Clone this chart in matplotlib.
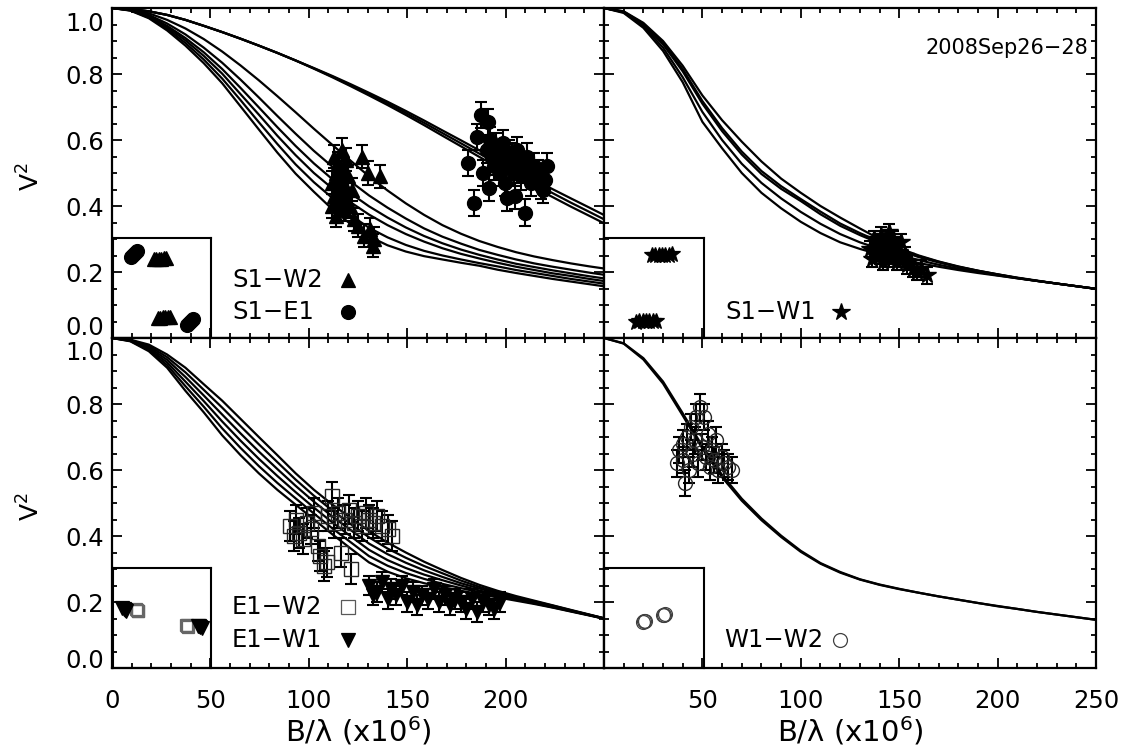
import matplotlib
matplotlib.use("Agg")
import matplotlib.pyplot as plt
from matplotlib.ticker import MultipleLocator
from matplotlib.transforms import ScaledTranslation

W, H = 1128, 749
plt.rcParams['font.family'] = ['DejaVu Sans']
plt.rcParams['font.size'] = 16

# ---------------- model curves: V^2 sampled along B/lambda (x10^6) ----------------
# sampling points for the left-hand panels
MODEL_B_LEFT = [0, 9.3, 18.7, 28.0, 37.3, 46.6, 56.0, 65.3, 74.6, 84.0, 93.3, 102.6, 112.0, 121.3,
                130.6, 140.0, 149.3, 158.6, 167.9, 177.3, 186.6, 195.9, 205.3, 214.6, 223.9,
                233.2, 242.6, 251.9]
# sampling points for the right-hand panels
MODEL_B_RIGHT = [0, 10, 20, 30, 40, 50, 60, 70, 80, 90, 100, 110, 120, 130, 140,
                 150, 160, 170, 180, 190, 200, 210, 220, 230, 240, 250, 260, 270]

# S1-E1 models (tight bundle)
model_s1e1 = [
    [1.0, .997, .99, .979, .964, .946, .927, .907, .886, .864, .841, .816, .79, .763, .735,
     .706, .676, .645, .613, .581, .549, .518, .487, .456, .427, .398, .37, .342],
    [1.0, .997, .99, .979, .964, .946, .927, .907, .886, .864, .841, .817, .792, .766, .739,
     .711, .682, .652, .621, .59, .559, .528, .498, .468, .439, .41, .382, .354],
    [1.0, .997, .99, .979, .964, .946, .927, .907, .886, .864, .841, .818, .794, .769, .743,
     .716, .688, .659, .629, .599, .569, .539, .509, .48, .451, .423, .395, .367],
]
# S1-W2 models
model_s1w2 = [
    [1.0, .996, .984, .964, .938, .906, .868, .826, .781, .733, .684, .634, .585, .537, .49,
     .447, .408, .373, .342, .316, .294, .276, .26, .247, .236, .226, .217, .209],
    [1.0, .995, .979, .953, .92, .88, .834, .783, .729, .673, .619, .567, .519, .474, .432,
     .395, .362, .332, .307, .286, .267, .252, .238, .226, .216, .207, .198, .19],
    [1.0, .994, .976, .946, .909, .866, .815, .758, .699, .639, .582, .529, .481, .438, .399,
     .365, .335, .309, .287, .268, .252, .238, .225, .215, .205, .196, .187, .179],
    [1.0, .993, .974, .942, .902, .855, .801, .739, .677, .613, .554, .50, .453, .411, .374,
     .342, .315, .292, .272, .255, .241, .228, .216, .206, .196, .188, .179, .171],
    [1.0, .993, .971, .937, .894, .844, .786, .721, .654, .588, .526, .472, .424, .372, .334,
     .305, .282, .264, .25, .238, .227, .217, .206, .197, .188, .179, .171, .163],
    [1.0, .992, .969, .932, .886, .833, .772, .702, .632, .562, .498, .443, .39, .345, .308,
     .281, .262, .248, .238, .228, .219, .207, .197, .188, .179, .171, .163, .155],
]
# S1-W1 models
model_s1w1 = [
    [1.0, .985, .94, .87, .775, .655, .575, .50, .44, .393, .352, .318, .29, .27, .253,
     .239, .227, .216, .206, .197, .189, .181, .173, .165, .157, .149, .141, .133],
    [1.0, .987, .945, .88, .79, .685, .60, .528, .47, .423, .382, .346, .315, .29, .27,
     .252, .236, .222, .21, .20, .19, .181, .173, .165, .157, .149, .141, .133],
    [1.0, .988, .95, .89, .808, .71, .627, .556, .497, .452, .415, .375, .34, .312, .287,
     .265, .245, .229, .215, .203, .192, .182, .173, .165, .157, .149, .141, .133],
    [1.0, .989, .952, .895, .815, .718, .636, .565, .506, .46, .421, .383, .347, .318, .292,
     .268, .248, .231, .216, .204, .193, .182, .173, .165, .157, .149, .141, .133],
    [1.0, .99, .955, .90, .825, .735, .66, .595, .535, .483, .44, .40, .365, .332, .30,
     .272, .25, .232, .217, .204, .193, .183, .174, .165, .157, .149, .141, .133],
]
# E1-W2 / E1-W1 models
model_e1w = [
    [1.0, .99, .96, .91, .84, .775, .705, .645, .59, .54, .495, .45, .405, .362, .32,
     .292, .272, .257, .245, .234, .224, .214, .204, .194, .183, .171, .159, .147],
    [1.0, .991, .964, .918, .854, .792, .726, .667, .612, .561, .514, .468, .423, .381, .339,
     .31, .288, .27, .255, .242, .23, .218, .207, .196, .184, .172, .16, .147],
    [1.0, .992, .968, .926, .868, .809, .747, .689, .634, .582, .533, .486, .441, .399, .358,
     .327, .303, .283, .266, .25, .235, .222, .21, .198, .186, .173, .16, .147],
    [1.0, .993, .972, .934, .882, .826, .768, .711, .656, .603, .552, .504, .459, .418, .377,
     .345, .319, .296, .276, .257, .241, .226, .212, .20, .187, .174, .161, .148],
    [1.0, .994, .976, .942, .896, .843, .789, .733, .678, .624, .571, .522, .477, .436, .396,
     .362, .334, .309, .287, .265, .246, .23, .215, .202, .189, .175, .161, .148],
    [1.0, .995, .98, .95, .91, .86, .81, .755, .70, .645, .59, .54, .495, .455, .415,
     .38, .35, .322, .297, .273, .252, .234, .218, .204, .19, .176, .162, .148],
]
# W1-W2 models
model_w1w2 = [
    [1.0, .983, .935, .862, .765, .665, .578, .507, .448, .397, .352, .316, .289, .268, .252,
     .239, .228, .217, .207, .197, .187, .179, .17, .162, .154, .146, .138, .13],
    [1.0, .984, .939, .868, .772, .672, .585, .513, .453, .401, .355, .318, .291, .269, .253,
     .24, .228, .217, .207, .197, .188, .179, .17, .162, .154, .146, .138, .13],
]

# ---------------- measured squared visibilities ----------------
s1w2_b = [112, 112, 113, 113, 114, 114, 115, 115, 116, 116, 117, 117, 118, 118, 118.5,
          119, 119, 120, 121, 122, 123, 125, 127, 128, 130, 131, 132.5, 133, 136]
s1w2_v = [.40, .47, .55, .43, .50, .37, .45, .53, .41, .48, .57, .44, .51, .39, .46,
          .54, .42, .49, .40, .45, .36, .34, .55, .31, .50, .33, .28, .30, .49]
s1w2_e = [.035] * len(s1w2_b)

s1e1_b = [181, 184, 185.5, 187.5, 188.5, 190.5, 191, 191.5, 192, 193, 194, 195, 196, 197, 198,
          198.5, 199.5, 200.5, 201.5, 202.5, 203.5, 204.5, 205, 206, 207, 208, 210, 211, 212,
          213, 214.5, 216.5, 218, 219, 220, 221]
s1e1_v = [.53, .41, .61, .675, .50, .57, .655, .455, .60, .55, .52, .58, .56, .50, .54, .59, .47, .425,
          .56, .52, .55, .50, .43, .57, .53, .49, .38, .55, .51, .47, .52, .50, .46, .45, .48, .52]
s1e1_e = [.04] * len(s1e1_b)

s1w1_b = [135, 136, 137, 138, 139, 140, 141, 142, 143, 143, 144, 145, 145, 146, 147, 147, 148,
          149, 150, 151, 152, 153, 154, 155, 157, 159, 161, 164]
s1w1_v = [.27, .24, .30, .26, .28, .25, .31, .23, .29, .27, .26, .32, .24, .28, .25, .30, .27,
          .23, .26, .29, .24, .25, .22, .23, .21, .20, .21, .19]
s1w1_e = [.025] * len(s1w1_b)

e1w2_b = [90.5, 92.5, 93.5, 95, 97, 99, 101, 102.5, 104.5, 105.5, 107.5, 109, 110, 112, 113,
          115, 116.5, 118.5, 120.5, 121.5, 123, 125, 127, 129, 130.5, 132.5, 134.5, 137, 140, 142.5]
e1w2_v = [.43, .40, .45, .41, .39, .44, .42, .47, .37, .34, .31, .32, .46, .52, .44, .47, .35,
          .45, .48, .30, .44, .46, .43, .47, .45, .44, .46, .43, .42, .40]
e1w2_e = [.045] * len(e1w2_b)

e1w1_b = [130.5, 132.5, 134.5, 137, 140, 142, 144.5, 147.5, 150, 153, 155, 157.5, 160.5, 163.5,
          166, 169, 171.5, 174.5, 177.5, 180, 183, 185.5, 188.5, 191.5, 194, 197]
e1w1_v = [.25, .22, .23, .26, .21, .24, .22, .25, .20, .23, .19, .22, .21, .24, .20, .22, .19,
          .21, .20, .18, .21, .17, .20, .19, .18, .20]
e1w1_e = [.03] * len(e1w1_b)

w1w2_b = [37, 38, 40, 40, 41, 42, 43, 44, 45, 46, 47, 48, 49, 50, 51, 52, 53, 54, 55, 56,
          57, 58, 60, 61, 63, 65]
w1w2_v = [.62, .66, .68, .63, .56, .70, .60, .73, .65, .69, .76, .62, .79, .67, .76, .64, .71,
          .61, .66, .63, .69, .60, .64, .62, .61, .60]
w1w2_e = [.04] * len(w1w2_b)

# ---------------- (u, v) coverage, Mlambda (mirrored points added when drawn) ----------------
uv_s1e1_u = [-139, -130, -121, -112]
uv_s1e1_v = [136, 145, 154, 163]
uv_s1w2_u = [-36, -25, -14, -3, 8, 18]
uv_s1w2_v = [128, 128, 129, 129, 130, 130]
uv_s1w1_u = [-9, 6, 21, 36, 50, 65, 79]
uv_s1w1_v = [145, 145, 146, 146, 147, 147, 148]
uv_e1w2_u = [-118, -114, -110, -106]
uv_e1w2_v = [38, 35, 32, 29]
uv_e1w1_u = [-178, -172, -166, -160]
uv_e1w1_v = [42, 39, 36, 33]
uv_w1w2_u = [-47, -44, -41]
uv_w1w2_v = [-16, -14, -12]

TICK_FS = 17.5
LABEL_FS = 17.5


def rect(x0, y0, x1, y1):
    return [x0 / W, 1 - y1 / H, (x1 - x0) / W, (y1 - y0) / H]


def shift(label, dy_px):
    label.set_transform(label.get_transform() +
                        ScaledTranslation(0, dy_px / 100, fig.dpi_scale_trans))


def style_axes(ax, xlabels, ylabels, top_shift, bottom_shift):
    ax.set_xlim(0, 250)
    ax.set_ylim(0, 1.0)
    ax.set_xticks([0, 50, 100, 150, 200, 250])
    ax.xaxis.set_minor_locator(MultipleLocator(10))
    ax.set_yticks([0, 0.2, 0.4, 0.6, 0.8, 1.0])
    ax.yaxis.set_minor_locator(MultipleLocator(0.05))
    ax.tick_params(which='both', direction='in', top=True, right=True, width=1.3, colors='k')
    ax.tick_params(which='major', length=7)
    ax.tick_params(which='minor', length=3.8)
    ax.tick_params(axis='x', labelsize=TICK_FS, pad=15)
    ax.tick_params(axis='y', labelsize=TICK_FS, pad=6)
    for s in ax.spines.values():
        s.set_linewidth(1.6)
    if xlabels is None:
        ax.set_xticklabels([])
    else:
        ax.set_xticklabels([str(t) if t in xlabels else '' for t in (0, 50, 100, 150, 200, 250)])
    if not ylabels:
        ax.set_yticklabels([])
    else:
        ax.set_yticklabels(['0.0', '0.2', '0.4', '0.6', '0.8', '1.0'])
        labs = ax.get_yticklabels()
        shift(labs[-1], -top_shift)
        shift(labs[0], bottom_shift)


def draw_models(ax, grid, curves):
    for c in curves:
        ax.plot(grid, c, color='k', lw=1.6, zorder=2, solid_joinstyle='round')


def draw_points(ax, b, v, e, marker, ms, filled=True):
    ax.errorbar(b, v, yerr=e, fmt='none', ecolor='k', elinewidth=1.5,
                capsize=4, capthick=1.5, zorder=3)
    ax.plot(b, v, ls='none', marker=marker, ms=ms,
            mfc='k' if filled else 'none', mec='k' if filled else '0.15', mew=1.0, zorder=4)


def legend_entry(xpix, ypix, label, marker, ms, filled=True, mec='k'):
    fig.text(xpix / W, 1 - ypix / H, label, fontsize=LABEL_FS, va='center', ha='left')
    fig.add_artist(plt.Line2D([(xpix + 116) / W], [1 - ypix / H], transform=fig.transFigure,
                              marker=marker, ms=ms, mfc='k' if filled else 'white',
                              mec=mec, mew=0.9, ls='none'))


def inset(box, groups):
    ia = fig.add_axes(rect(*box))
    for u, v, marker, ms, filled, col in groups:
        for sgn in (1, -1):
            ia.plot([sgn * a for a in u], [sgn * a for a in v], ls='none', marker=marker, ms=ms,
                    mfc=col if filled else 'none', mec=col, mew=0.9)
    ia.set_xlim(-220, 220)
    ia.set_ylim(-220, 220)
    ia.set_xticks([])
    ia.set_yticks([])
    for s in ia.spines.values():
        s.set_linewidth(1.5)
    ia.patch.set_alpha(0)
    return ia


fig = plt.figure(figsize=(W / 100, H / 100), dpi=100)

ax_tl = fig.add_axes(rect(112, 8, 604, 338))
ax_tr = fig.add_axes(rect(604, 8, 1096, 338))
ax_bl = fig.add_axes(rect(112, 338, 604, 668))
ax_br = fig.add_axes(rect(604, 338, 1096, 668))

style_axes(ax_tl, None, True, 13, 13)
style_axes(ax_tr, None, False, 0, 0)
style_axes(ax_bl, [0, 50, 100, 150, 200], True, 13, 10)
style_axes(ax_br, [50, 100, 150, 200, 250], False, 0, 0)

draw_models(ax_tl, MODEL_B_LEFT, model_s1e1 + model_s1w2)
draw_models(ax_tr, MODEL_B_RIGHT, model_s1w1)
draw_models(ax_bl, MODEL_B_LEFT, model_e1w)
draw_models(ax_br, MODEL_B_RIGHT, model_w1w2)

draw_points(ax_tl, s1w2_b, s1w2_v, s1w2_e, '^', 10)
draw_points(ax_tl, s1e1_b, s1e1_v, s1e1_e, 'o', 10)
draw_points(ax_tr, s1w1_b, s1w1_v, s1w1_e, '*', 13)
draw_points(ax_bl, e1w2_b, e1w2_v, e1w2_e, 's', 10, filled=False)
draw_points(ax_bl, e1w1_b, e1w1_v, e1w1_e, 'v', 10)
draw_points(ax_br, w1w2_b, w1w2_v, w1w2_e, 'o', 10, filled=False)

for ax in (ax_tl, ax_bl):
    ax.set_ylabel('V$^2$', fontsize=18)
    ax.yaxis.set_label_coords(-0.138, 0.49)
for ax in (ax_bl, ax_br):
    ax.set_xlabel('B/λ (x10$^6$)', fontsize=21)
    ax.xaxis.set_label_coords(0.5, -0.14)

ax_tr.text(246, 0.88, '2008Sep26−28', ha='right', va='center', fontsize=15)

legend_entry(232, 280, 'S1−W2', '^', 10)
legend_entry(232, 312, 'S1−E1', 'o', 10)
legend_entry(725, 312, 'S1−W1', '*', 13)
legend_entry(232, 607, 'E1−W2', 's', 10, filled=False, mec='0.35')
legend_entry(232, 640, 'E1−W1', 'v', 10)
legend_entry(724, 640, 'W1−W2', 'o', 10, filled=False, mec='0.25')

inset((113, 238, 211, 338), [(uv_s1e1_u, uv_s1e1_v, 'o', 10, True, 'k'),
                             (uv_s1w2_u, uv_s1w2_v, '^', 10, True, 'k')])
inset((604, 238, 704, 338), [(uv_s1w1_u, uv_s1w1_v, '*', 12, True, 'k')])
inset((113, 568, 211, 668), [(uv_e1w2_u, uv_e1w2_v, 's', 9, False, '0.4'),
                             (uv_e1w1_u, uv_e1w1_v, 'v', 10, True, 'k')])
inset((604, 568, 704, 668), [(uv_w1w2_u, uv_w1w2_v, 'o', 10, False, '0.25')])

fig.savefig('out.png', dpi=100)
